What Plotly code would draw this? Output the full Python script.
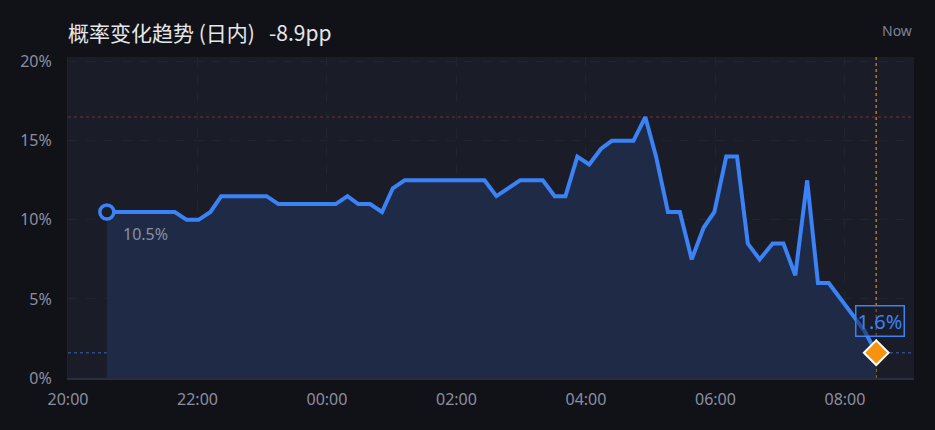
import plotly.graph_objects as go

# intraday probability (%), sample times
times = ["20:36", "20:45", "20:56", "21:07", "21:18", "21:28", "21:39", "21:50",
         "22:01", "22:12", "22:22", "22:33", "22:43", "22:54", "23:04", "23:15",
         "23:25", "23:36", "23:47", "23:58", "00:08", "00:19", "00:29", "00:40",
         "00:51", "01:01", "01:12", "01:23", "01:33", "01:44", "01:55", "02:05",
         "02:16", "02:26", "02:37", "02:48", "02:59", "03:10", "03:20", "03:31",
         "03:41", "03:52", "04:03", "04:14", "04:24", "04:34", "04:44", "04:55",
         "05:05", "05:16", "05:27", "05:38", "05:49", "05:59", "06:10", "06:20",
         "06:30", "06:41", "06:53", "07:03", "07:14", "07:25", "07:35", "07:45",
         "07:56", "08:07", "08:18", "08:29"]
prob = [10.5, 10.5, 10.5, 10.5, 10.5, 10.5, 10.5, 10.0,
        10.0, 10.5, 11.5, 11.5, 11.5, 11.5, 11.5, 11.0,
        11.0, 11.0, 11.0, 11.0, 11.0, 11.5, 11.0, 11.0,
        10.5, 12.0, 12.5, 12.5, 12.5, 12.5, 12.5, 12.5,
        12.5, 12.5, 11.5, 12.0, 12.5, 12.5, 12.5, 11.5,
        11.5, 14.0, 13.5, 14.5, 15.0, 15.0, 15.0, 16.5,
        14.0, 10.5, 10.5, 7.5, 9.5, 10.5, 14.0, 14.0,
        8.5, 7.5, 8.5, 8.5, 6.5, 12.5, 6.0, 6.0,
        5.0, 4.0, 3.0, 1.6]

title = "概率变化趋势 (日内)&nbsp;&nbsp;&nbsp;-8.9pp"
x_ticks = ["20:00", "22:00", "00:00", "02:00", "04:00", "06:00", "08:00"]
y_ticks = [0, 5, 10, 15, 20]


def to_dt(hm):
    day = "2024-05-01" if int(hm[:2]) >= 12 else "2024-05-02"
    return f"{day} {hm}"


x = [to_dt(t) for t in times]
tick_vals = [to_dt(t) for t in x_ticks]

BG = "#111218"
PANEL = "#1a1c28"
GRID = "#222430"
BLUE = "#3b82f6"
GREY = "#8a8fa0"
FONT = "Noto Sans, Noto Sans CJK SC, sans-serif"

fig = go.Figure()
fig.add_trace(go.Scatter(x=x, y=prob, mode="lines", fill="tozeroy",
                         fillcolor="#1f2b46", line=dict(color=BLUE, width=4),
                         hoverinfo="skip"))
# start marker
fig.add_trace(go.Scatter(x=[x[0]], y=[prob[0]], mode="markers",
                         marker=dict(size=14, color=PANEL, line=dict(color=BLUE, width=3.5))))
# current value marker
fig.add_trace(go.Scatter(x=[x[-1]], y=[prob[-1]], mode="markers",
                         marker=dict(symbol="diamond", size=19, color="#f7930f",
                                     line=dict(color="white", width=2))))

# reference lines: max, current, now
fig.add_hline(y=max(prob), line=dict(color="#5b2730", width=1.5, dash="dot"), layer="below")
fig.add_hline(y=prob[-1], line=dict(color="#2b4f86", width=1.5, dash="dot"), layer="below")
fig.add_vline(x=x[-1], line=dict(color="#c27413", width=1.5, dash="dot"), layer="below")

fig.add_annotation(xref="paper", yref="paper", x=0, y=1, xanchor="left", yanchor="middle",
                   yshift=25, xshift=-2, text=title, showarrow=False,
                   font=dict(family="Noto Sans CJK SC", size=21, color="#e6e7ea"))
fig.add_annotation(xref="paper", yref="paper", x=1, y=1, xanchor="right", yanchor="middle",
                   yshift=27, text="Now", showarrow=False,
                   font=dict(family=FONT, size=14, color="#7d8291"))
fig.add_annotation(x=x[0], y=prob[0], xanchor="left", yanchor="middle", xshift=14, yshift=-22,
                   text=f"{prob[0]}%", showarrow=False,
                   font=dict(family=FONT, size=16, color=GREY))
fig.add_annotation(x=x[-1], y=prob[-1], xanchor="center", yanchor="middle", xshift=4, yshift=32,
                   text=f"{prob[-1]}%", showarrow=False, bordercolor=BLUE, borderwidth=1.5,
                   borderpad=1, bgcolor="rgba(26,28,40,0.5)",
                   font=dict(family=FONT, size=20, color=BLUE))

fig.update_layout(
    width=935, height=430,
    margin=dict(l=68, r=21, t=57, b=52),
    paper_bgcolor=BG, plot_bgcolor=PANEL,
    showlegend=False,
    font=dict(family=FONT, size=16, color=GREY),
    xaxis=dict(type="date", range=["2024-05-01 20:00", "2024-05-02 09:04"],
               tickvals=tick_vals, ticktext=x_ticks, showgrid=True, gridcolor=GRID,
               griddash="dash", zeroline=False, showline=True, linecolor="#2a2d3c",
               linewidth=2, ticks="", ticklabelstandoff=6, fixedrange=True),
    yaxis=dict(range=[0, 20.3], tickvals=y_ticks, ticktext=[f"{v}%" for v in y_ticks],
               showgrid=True, gridcolor=GRID, griddash="dash", zeroline=False,
               showline=True, linecolor="#1f2230", linewidth=1, ticks="",
               ticklabelstandoff=12, fixedrange=True),
)

fig.write_html("out.html", config={"displayModeBar": False},
               post_script="document.body.style.margin='0';"
                           "document.body.style.background='#111218';")
